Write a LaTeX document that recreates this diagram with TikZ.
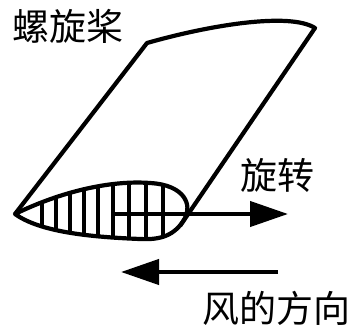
\documentclass[tikz,border=0pt]{standalone}
\usepackage{fontspec}
\newfontfamily\cjk{Noto Sans CJK SC}
\usetikzlibrary{arrows.meta}

\tikzset{
  outline/.style={line width=4.2pt, line join=round},
  hatch/.style={line width=3.4pt},
  bigarrow/.style={line width=4.2pt, -{Triangle[length=38pt, width=25pt]}},
  label/.style={font=\cjk\fontsize{37}{37}\selectfont, inner sep=0pt}
}

\begin{document}
\begin{tikzpicture}[x=1pt, y=-1pt]
  \useasboundingbox (0,0) rectangle (354,327);

  % blade section (airfoil)
  \def\airfoil{(15,214) .. controls (60,192) and (110,180) .. (150,183)
    .. controls (185,185) and (192,205) .. (185,218)
    .. controls (175,236) and (160,240) .. (140,239)
    .. controls (90,237) and (40,232) .. (15,214) -- cycle}
  \begin{scope}
    \clip \airfoil;
    \foreach \x in {42,56,70,84,98,113,129,146,163}
      \draw[hatch] (\x,170) -- (\x,250);
  \end{scope}
  \draw[outline] \airfoil;

  % blade outline
  \coordinate (lead) at (15,214);
  \coordinate (tipL) at (147,43);
  \coordinate (tipR) at (315,28);
  \coordinate (rootR) at (180,226);
  \draw[outline] (lead) -- (tipL)
    .. controls (210,25) and (290,12) .. (tipR) -- (rootR);

  % rotation and wind arrows
  \coordinate (rotS) at (112,214);
  \coordinate (rotE) at (288,214);
  \coordinate (windS) at (278,272);
  \coordinate (windE) at (121,272);
  \draw[bigarrow] (rotS) -- (rotE);
  \draw[bigarrow] (windS) -- (windE);

  \node[label] (prop) at (68,26) {螺旋桨};
  \node[label] (rot) at (277,175) {旋转};
  \node[label] (wind) at (276,308) {风的方向};
\end{tikzpicture}
\end{document}
